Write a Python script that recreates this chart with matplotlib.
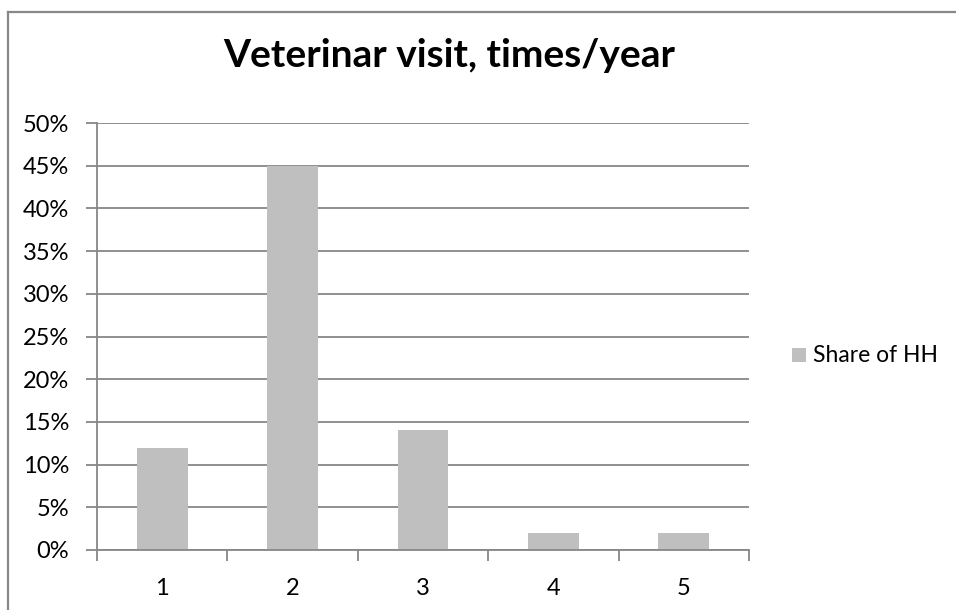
import matplotlib
matplotlib.use("Agg")
import matplotlib.pyplot as plt
import matplotlib.patheffects as pe
from matplotlib.lines import Line2D
from matplotlib.patches import Rectangle
from matplotlib.ticker import FixedLocator, FuncFormatter

plt.rcParams['font.family'] = ['Lato', 'DejaVu Sans']

categories = ['1', '2', '3', '4', '5']
share_of_hh = [0.12, 0.45, 0.14, 0.02, 0.02]
y_ticks = [0.0, 0.05, 0.10, 0.15, 0.20, 0.25, 0.30, 0.35, 0.40, 0.45, 0.50]
title = 'Veterinar visit, times/year'
series_name = 'Share of HH'

W, H = 956, 610
fig = plt.figure(figsize=(W / 100, H / 100), dpi=100)
fig.patch.set_facecolor('white')

# chart frame (top and left edges)
fig.add_artist(Line2D([8 / W, 8 / W], [0, 1 - 11.5 / H], color='#888888', lw=1.6))
fig.add_artist(Line2D([8 / W, 1], [1 - 11.5 / H, 1 - 11.5 / H], color='#888888', lw=1.6))

ax = fig.add_axes([97 / W, 60 / H, (749 - 97) / W, (550 - 123) / H])
ax.set_facecolor('white')

x = list(range(1, len(categories) + 1))
bars = ax.bar(x, share_of_hh, width=0.39, color='#bfbfbf', zorder=3,
              label=series_name)
for b in bars:
    b.set_path_effects([pe.SimplePatchShadow(offset=(0, -1), shadow_rgbFace='#bbbbbb',
                                             alpha=0.35), pe.Normal()])

ax.set_xlim(0.5, len(categories) + 0.5)
ax.set_ylim(0, 0.5)

ax.yaxis.set_major_locator(FixedLocator(y_ticks))
ax.yaxis.set_major_formatter(FuncFormatter(lambda v, p: f'{v * 100:.0f}%'))
ax.yaxis.grid(True, color='#878787', lw=1.3, zorder=0)
ax.tick_params(axis='y', length=8, width=1.3, color='#878787', pad=12,
               labelsize=17, labelcolor='black')

ax.set_xticks(x)
ax.set_xticklabels(categories)
ax.set_xticks([i + 0.5 for i in range(0, len(categories) + 1)], minor=True)
ax.tick_params(axis='x', which='major', length=0, pad=20, labelsize=17,
               labelcolor='black')
ax.tick_params(axis='x', which='minor', length=8, width=1.3, color='#878787')

for side in ['top', 'right']:
    ax.spines[side].set_visible(False)
for side in ['left', 'bottom']:
    ax.spines[side].set_color('#878787')
    ax.spines[side].set_linewidth(1.3)
    ax.spines[side].set_zorder(4)

fig.text(449 / W, 1 - 67 / H, title, ha='center', va='baseline',
         fontsize=28, fontweight='bold', color='black')

# legend
fig.add_artist(Rectangle((792 / W, 1 - 362 / H), 14 / W, 14 / H,
                         transform=fig.transFigure, facecolor='#bfbfbf',
                         edgecolor='none'))
fig.text(813 / W, 1 - 355 / H, series_name, ha='left', va='center',
         fontsize=16.5, color='black')

fig.savefig('out.png', dpi=100, facecolor='white')
